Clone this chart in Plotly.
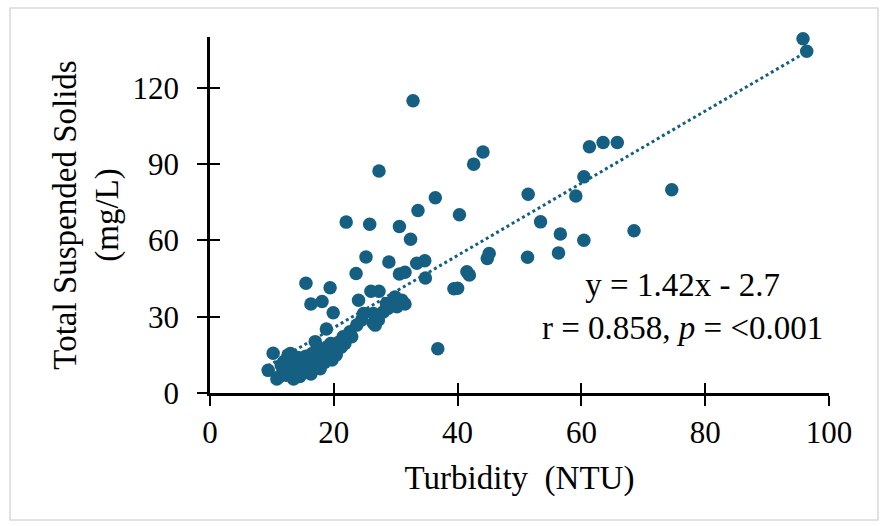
import plotly.graph_objects as go

# Turbidity (NTU) and Total Suspended Solids (mg/L)
turbidity = [
    95.8, 96.4, 61.3, 63.5, 65.8, 60.4, 59.1, 74.6, 53.4, 27.3,
    44.1, 42.6, 36.4, 51.4, 33.6, 40.3, 30.6, 32.4, 56.6, 60.4,
    68.5, 28.9, 33.4, 34.7, 45.1, 44.8, 51.3, 56.3, 30.6, 31.5,
    34.8, 41.5, 41.9, 39.4, 36.8, 32.8, 22.0, 25.8, 25.2, 23.6,
    15.5, 19.4, 16.3, 18.1, 19.9, 26.0, 27.3, 24.0, 26.4, 28.5,
    18.8, 17.0, 10.2, 9.4, 10.8, 19.7, 29.9, 31.0, 29.1, 30.2,
    31.5, 26.4, 27.2, 26.7, 24.8, 24.5, 23.7, 22.6, 21.5, 28.0,
    28.8, 12.6, 19.7, 21.8, 22.9, 40.0,
    11.2, 11.8, 12.0, 12.3, 12.6, 13.0, 13.2, 13.5, 13.8, 14.0,
    14.2, 14.5, 14.7, 15.0, 15.2, 15.5, 15.8, 16.0, 16.3, 16.5,
    16.8, 17.2, 17.5, 17.8, 18.2, 18.5, 18.8, 19.2, 19.5, 20.0,
    20.4, 20.8, 21.2, 13.0, 11.5,
]
tss = [
    139.3, 134.4, 96.8, 98.5, 98.5, 85.0, 77.5, 79.9, 67.3, 87.3,
    94.8, 90.0, 76.8, 78.2, 71.8, 70.1, 65.5, 60.5, 62.5, 60.1,
    63.8, 51.5, 51.0, 52.0, 54.9, 52.9, 53.4, 55.1, 46.8, 47.5,
    45.2, 47.7, 46.4, 41.0, 17.4, 114.9, 67.2, 66.4, 53.5, 47.0,
    43.2, 41.4, 35.0, 36.0, 31.6, 40.0, 40.0, 36.5, 27.4, 35.2,
    25.2, 20.2, 15.6, 8.9, 5.5, 13.0, 37.8, 36.5, 35.2, 33.9,
    35.0, 31.3, 28.7, 26.7, 31.3, 28.7, 26.7, 24.1, 22.1, 31.9,
    33.3, 14.9, 16.9, 19.5, 22.1, 41.2,
    6.5, 9.5, 12.5, 7.0, 10.5, 8.0, 13.0, 5.5, 11.0, 8.5,
    14.0, 6.5, 10.0, 12.0, 8.0, 14.5, 10.0, 12.5, 7.5, 15.5,
    11.0, 13.5, 17.0, 9.5, 15.0, 12.0, 18.0, 14.5, 19.5, 17.0,
    15.0, 20.0, 18.0, 15.5, 11.0,
]

slope = 1.42
intercept = -2.7
x_ticks = [0, 20, 40, 60, 80, 100]
y_ticks = [0, 30, 60, 90, 120]

color = "#156082"
font_family = "Liberation Serif, Times New Roman, serif"

trend_x = [min(turbidity), max(turbidity)]
trend_y = [slope * v + intercept for v in trend_x]

fig = go.Figure()
fig.add_trace(go.Scatter(
    x=turbidity, y=tss, mode="markers", cliponaxis=False,
    marker=dict(size=13.5, color=color, line=dict(width=0)),
    showlegend=False, hoverinfo="skip",
))
fig.add_trace(go.Scatter(
    x=trend_x, y=trend_y, mode="lines", xaxis="x2", yaxis="y2",
    line=dict(color=color, width=3, dash="dot"),
    showlegend=False, hoverinfo="skip",
))

axis_common = dict(showgrid=False, zeroline=False, tickcolor="black", tickwidth=2, ticklen=10)

fig.update_layout(
    width=884, height=526, autosize=False,
    margin=dict(l=210, r=55, t=37, b=133),
    paper_bgcolor="white", plot_bgcolor="white",
    font=dict(family=font_family, color="black", size=31),
    xaxis=dict(
        range=[0, 100], tickvals=x_ticks, ticks="outside",
        showline=True, linecolor="black", linewidth=2.5,
        tickfont=dict(size=31), ticklabelstandoff=0,
        title=dict(text="Turbidity  (NTU)", font=dict(size=33), standoff=17),
        **axis_common,
    ),
    yaxis=dict(
        range=[0, 140], tickvals=y_ticks, ticks="outside",
        showline=True, linecolor="black", linewidth=2.5,
        tickfont=dict(size=31), ticklabelstandoff=12,
        title=dict(text="Total Suspended Solids<br>(mg/L)", font=dict(size=33), standoff=4),
        **axis_common,
    ),
    xaxis2=dict(
        range=[0, 100], tickvals=x_ticks, ticks="inside", overlaying="x",
        showticklabels=False, showline=False, anchor="y2", **axis_common,
    ),
    yaxis2=dict(
        range=[0, 140], tickvals=y_ticks, ticks="inside", overlaying="y",
        showticklabels=False, showline=False, anchor="x2", **axis_common,
    ),
    annotations=[dict(
        xref="paper", yref="paper", x=0.764, y=0.242,
        xanchor="center", yanchor="middle", showarrow=False,
        text="y = 1.42x - 2.7<br>r = 0.858, <i>p</i> = &lt;0.001",
        font=dict(size=33, family=font_family, color="black"),
    )],
    shapes=[dict(
        type="rect", xref="paper", yref="paper",
        x0=(10 - 210) / 619, x1=(878 - 210) / 619,
        y0=(393 - 520) / 356, y1=(393 - 8) / 356,
        line=dict(color="#d9d9d9", width=1.5), fillcolor="rgba(0,0,0,0)", layer="below",
    )],
)

fig.write_html("out.html")
